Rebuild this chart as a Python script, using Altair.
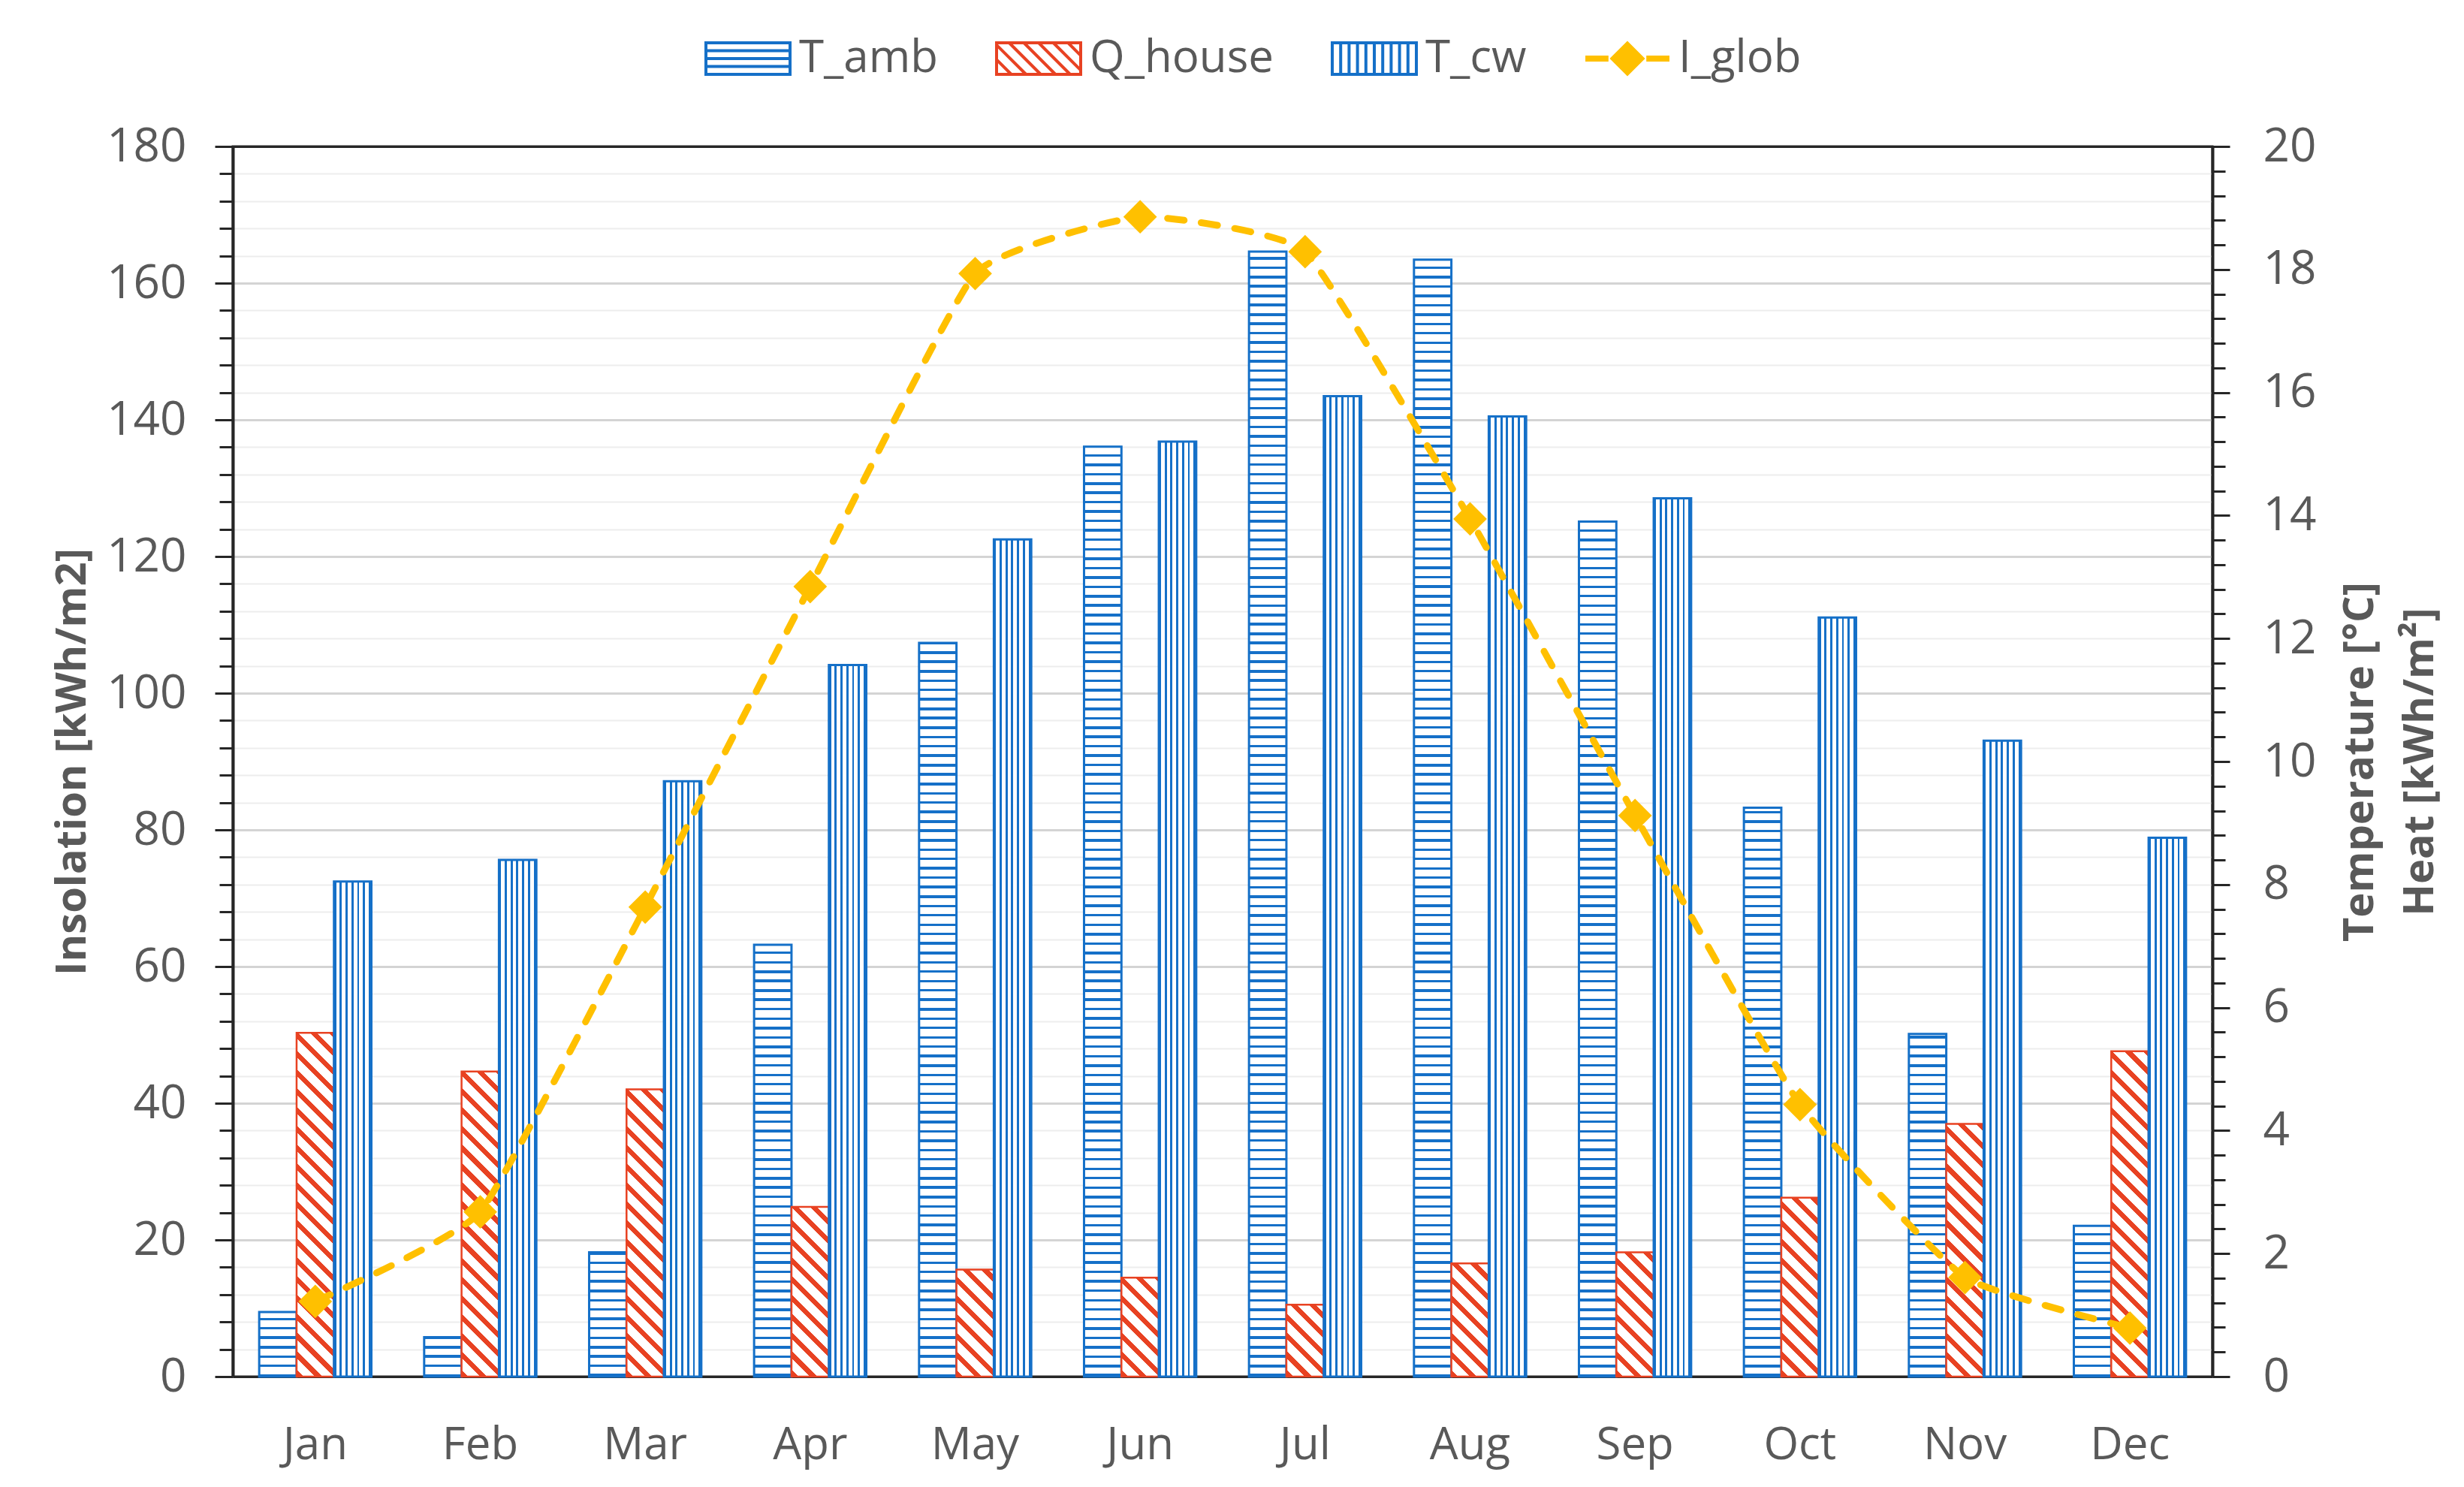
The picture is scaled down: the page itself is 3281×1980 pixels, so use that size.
import math
import altair as alt
import pandas as pd

# ---------------- data ----------------
months = ["Jan", "Feb", "Mar", "Apr", "May", "Jun", "Jul", "Aug", "Sep", "Oct", "Nov", "Dec"]
t_amb = [1.05, 0.64, 2.02, 7.02, 11.93, 15.12, 18.29, 18.16, 13.9, 9.25, 5.57, 2.45]
q_house = [5.59, 4.96, 4.67, 2.76, 1.74, 1.61, 1.17, 1.84, 2.02, 2.91, 4.11, 5.29]
t_cw = [8.05, 8.4, 9.68, 11.57, 13.61, 15.2, 15.94, 15.61, 14.28, 12.34, 10.34, 8.76]
i_glob = [11.0, 24.1, 68.7, 115.6, 161.4, 169.7, 164.6, 125.5, 82.1, 39.8, 14.5, 7.1]

bar_series = ["T_amb", "Q_house", "T_cw"]
all_series = ["T_amb", "Q_house", "T_cw", "I_glob"]

# ---------------- style ----------------
BLUE = "#1570C8"
RED = "#E84222"
YELLOW = "#FFC000"
TXT = "#595959"
DARK = "#262626"
FONT = "Open Sans"

W, H = 2636, 1638
PAD_IN = 0.32
BAR_W = (W / 12) * (1 - PAD_IN) / 3

rows = []
for i, m in enumerate(months):
    rows.append({"month": m, "series": "T_amb", "value": t_amb[i]})
    rows.append({"month": m, "series": "Q_house", "value": q_house[i]})
    rows.append({"month": m, "series": "T_cw", "value": t_cw[i]})
df_bars = pd.DataFrame(rows)
df_line = pd.DataFrame({"month": months, "I_glob": i_glob, "series": ["I_glob"] * 12})


def r5(v):
    return round(v, 5)


def stripe_stops(length_px, period, line, color):
    stops = []
    k = 0
    while k * period < length_px:
        s = k * period / length_px
        e = min((k * period + line) / length_px, 1)
        n = min((k + 1) * period / length_px, 1)
        stops += [
            {"offset": r5(s), "color": color},
            {"offset": r5(e), "color": color},
            {"offset": r5(e), "color": "#ffffff"},
            {"offset": r5(n), "color": "#ffffff"},
        ]
        k += 1
    return stops


def hgrad(value):
    h = value / 20 * H
    return {"gradient": "linear", "x1": 0, "y1": 1, "x2": 0, "y2": 0,
            "stops": stripe_stops(h, 12.5, 3.5, BLUE)}


def vgrad():
    return {"gradient": "linear", "x1": 0, "y1": 0, "x2": 1, "y2": 0,
            "stops": stripe_stops(BAR_W, 7.7, 2.8, BLUE)}


def dgrad(value):
    w = BAR_W
    h = max(value / 20 * H, 1)
    r = h / w
    a = (1 + r) / (1 + r * r)
    D = (w + h) / math.sqrt(2)
    return {"gradient": "linear", "x1": 0, "y1": 1, "x2": r5(a), "y2": r5(1 - a * r),
            "stops": stripe_stops(D, 17.7, 6.5, RED)}


# ---------------- scales / axes ----------------
x_enc_kwargs = dict(
    sort=months,
    scale=alt.Scale(domain=months, paddingInner=PAD_IN, paddingOuter=PAD_IN / 2),
    axis=alt.Axis(title=None, ticks=False, tickSize=0, labelPadding=62, labelFontSize=60,
                  labelFont=FONT, labelColor=TXT, domainColor=DARK, domainWidth=3,
                  labelAngle=0, grid=False),
)
xoff = alt.XOffset("series:N", scale=alt.Scale(domain=bar_series, paddingInner=0, paddingOuter=0))

right_vals = [round(i * 0.4, 1) for i in range(51)]
right_axis = alt.Axis(
    orient="right", values=right_vals, grid=False,
    labelExpr="datum.value % 2 === 0 ? format(datum.value, 'd') : ''",
    tickSize={"condition": {"test": "datum.value % 2 === 0", "value": 23}, "value": 17},
    tickColor=DARK, tickWidth=3, domainColor=DARK, domainWidth=4,
    labelFont=FONT, labelFontSize=62, labelColor=TXT, labelPadding=44,
    title=["Temperature [°C]", "Heat [kWh/m²]"], titleFont=FONT, titleFontSize=56,
    titleFontWeight="bold", titleColor=TXT, titleAngle=270, titleX=196, titleY=H / 2,
    titleAlign="center", titleBaseline="middle", titleLineHeight=80,
)
y_right = alt.Y("value:Q", scale=alt.Scale(domain=[0, 20], nice=False), axis=right_axis)

left_vals = list(range(0, 181, 4))
left_axis = alt.Axis(
    orient="left", values=left_vals,
    labelExpr="datum.value % 20 === 0 ? datum.label : ''",
    tickSize={"condition": {"test": "datum.value % 20 === 0", "value": 24}, "value": 18},
    tickColor=DARK, tickWidth=3, domainColor=DARK, domainWidth=4,
    grid=True,
    gridColor={"condition": [{"test": "datum.value === 180", "value": DARK},
                             {"test": "datum.value % 20 === 0", "value": "#d4d4d4"}],
               "value": "#ededed"},
    gridWidth={"condition": {"test": "datum.value % 20 === 0", "value": 3}, "value": 2},
    labelFont=FONT, labelFontSize=62, labelColor=TXT, labelPadding=38,
    title="Insolation [kWh/m2]", titleFont=FONT, titleFontSize=56, titleFontWeight="bold",
    titleColor=TXT, titleAngle=270, titleX=-214, titleY=H / 2,
    titleAlign="center", titleBaseline="middle",
)

# ---------------- bar layers ----------------
base_bars = alt.Chart(df_bars)
bar_layers = []
for i, m in enumerate(months):
    bar_layers.append(
        base_bars.mark_bar(fill=hgrad(t_amb[i]), stroke=BLUE, strokeWidth=3)
        .encode(x=alt.X("month:N", **x_enc_kwargs), xOffset=xoff, y=y_right)
        .transform_filter(f"datum.month == '{m}' && datum.series == 'T_amb'")
    )
    bar_layers.append(
        base_bars.mark_bar(fill=dgrad(q_house[i]), stroke=RED, strokeWidth=2.5)
        .encode(x=alt.X("month:N", **x_enc_kwargs), xOffset=xoff, y=y_right)
        .transform_filter(f"datum.month == '{m}' && datum.series == 'Q_house'")
    )
bar_layers.append(
    base_bars.mark_bar(fill=vgrad(), stroke=BLUE, strokeWidth=3)
    .encode(x=alt.X("month:N", **x_enc_kwargs), xOffset=xoff, y=y_right)
    .transform_filter("datum.series == 'T_cw'")
)
bars = alt.layer(*bar_layers)

# ---------------- legend symbol paths ----------------
def f(v):
    return f"{v:.3f}".rstrip("0").rstrip(".")

HH = 0.375
rect = f"M-1,{f(-HH)}H1V{f(HH)}H-1Z"
p_amb = rect + "".join(f"M-1,{f(y)}H1" for y in (-0.1875, 0, 0.1875))
p_q = rect
x0 = -1 - 2 * HH
while x0 < 1:
    xs, xe = x0, x0 + 2 * HH
    ys, ye = -HH, HH
    if xs < -1:
        ys = -HH + (-1 - xs)
        xs = -1
    if xe > 1:
        ye = -HH + (1 - x0)
        xe = 1
    if xe > xs:
        p_q += f"M{f(xs)},{f(ys)}L{f(xe)},{f(ye)}"
    x0 += 0.35
p_cw = rect + "".join(f"M{f(x)},{f(-HH)}V{f(HH)}" for x in [-0.8 + 0.2 * k for k in range(9)])
p_glob = "".join(f"M-1,{f(d)}H-0.45M0.45,{f(d)}H1" for d in (-0.035, 0, 0.035))
for rr in (0.37, 0.30, 0.23, 0.16, 0.09, 0.03):
    p_glob += f"M{f(-rr)},0L0,{f(-rr)}L{f(rr)},0L0,{f(rr)}Z"

legend = alt.Legend(
    title=None, orient="none", legendX=628, legendY=-175, direction="horizontal",
    symbolSize=12544, symbolStrokeWidth=4, symbolOpacity=1, labelFont=FONT,
    labelFontSize=60, labelColor=TXT, labelOffset=10, columnPadding=70, padding=0,
    labelLimit=0,
)

# ---------------- line layers ----------------
base_line = alt.Chart(df_line)
y_left = alt.Y("I_glob:Q", scale=alt.Scale(domain=[0, 180], nice=False), axis=left_axis)
line = base_line.mark_line(color=YELLOW, strokeWidth=9, strokeDash=[22, 23], strokeCap="round",
                           interpolate="cardinal", tension=0.6).encode(
    x=alt.X("month:N", **x_enc_kwargs), y=y_left)
pts = base_line.mark_point(shape="diamond", filled=True, size=2000, color=YELLOW, opacity=1).encode(
    x=alt.X("month:N", **x_enc_kwargs), y=y_left)
leg = base_line.mark_point(filled=False, opacity=0).encode(
    x=alt.X("month:N", **x_enc_kwargs), y=y_left,
    color=alt.Color("series:N", scale=alt.Scale(domain=all_series, range=[BLUE, RED, BLUE, YELLOW]),
                    legend=legend),
    shape=alt.Shape("series:N", scale=alt.Scale(domain=all_series, range=[p_amb, p_q, p_cw, p_glob]),
                    legend=legend),
)
line_group = alt.layer(line, pts, leg)

chart = (
    alt.layer(bars, line_group)
    .resolve_scale(y="independent")
    .properties(width=W, height=H, padding={"left": 302, "top": 187, "right": 320, "bottom": 130},
                autosize=alt.AutoSizeParams(type="none"))
    .configure_view(stroke=DARK, strokeWidth=3)
)

chart.save("out.html", embed_options={"renderer": "svg", "actions": False})
